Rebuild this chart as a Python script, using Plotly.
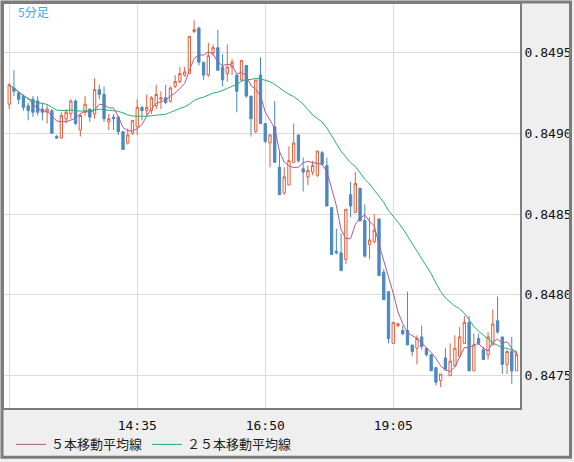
import pandas as pd
import plotly.graph_objects as go

# ---------------- data ----------------
start_time = "2024-01-01 12:20"

open_ = [0.84918, 0.84928, 0.84925, 0.84923, 0.84917, 0.84921, 0.84920, 0.84915, 0.84913, 0.84914,
         0.84898, 0.84897, 0.84909, 0.84912, 0.84920, 0.84902, 0.84913, 0.84915, 0.84912, 0.84927,
         0.84924, 0.84907, 0.84910, 0.84910, 0.84901, 0.84894, 0.84900, 0.84904, 0.84916, 0.84914,
         0.84914, 0.84917, 0.84921, 0.84922, 0.84920, 0.84929, 0.84932, 0.84936, 0.84937, 0.84963,
         0.84965, 0.84944, 0.84936, 0.84950, 0.84953, 0.84941, 0.84937, 0.84941, 0.84936, 0.84933,
         0.84942, 0.84923, 0.84901, 0.84936, 0.84906, 0.84894, 0.84904, 0.84879, 0.84863, 0.84868,
         0.84882, 0.84899, 0.84878, 0.84873, 0.84876, 0.84874, 0.84888, 0.84880, 0.84854, 0.84827,
         0.84826, 0.84822, 0.84862, 0.84851, 0.84866, 0.84846, 0.84831, 0.84833, 0.84847, 0.84814,
         0.84802, 0.84770, 0.84781, 0.84778, 0.84778, 0.84769, 0.84767, 0.84774, 0.84767, 0.84763,
         0.84755, 0.84747, 0.84761, 0.84750, 0.84756, 0.84762, 0.84770, 0.84783, 0.84753, 0.84773,
         0.84766, 0.84763, 0.84769, 0.84784, 0.84774, 0.84757, 0.84765, 0.84753]

high = [0.84931, 0.84939, 0.84926, 0.84924, 0.84919, 0.84923, 0.84923, 0.84919, 0.84918, 0.84915,
        0.84899, 0.84913, 0.84915, 0.84921, 0.84921, 0.84912, 0.84923, 0.84915, 0.84934, 0.84930,
        0.84929, 0.84912, 0.84912, 0.84911, 0.84901, 0.84903, 0.84908, 0.84921, 0.84917, 0.84924,
        0.84923, 0.84930, 0.84926, 0.84930, 0.84929, 0.84936, 0.84941, 0.84941, 0.84960, 0.84970,
        0.84966, 0.84944, 0.84956, 0.84955, 0.84964, 0.84949, 0.84955, 0.84946, 0.84936, 0.84945,
        0.84942, 0.84923, 0.84933, 0.84947, 0.84906, 0.84899, 0.84920, 0.84889, 0.84879, 0.84892,
        0.84906, 0.84899, 0.84885, 0.84880, 0.84883, 0.84889, 0.84889, 0.84885, 0.84854, 0.84841,
        0.84838, 0.84853, 0.84870, 0.84876, 0.84866, 0.84856, 0.84848, 0.84850, 0.84847, 0.84816,
        0.84802, 0.84783, 0.84783, 0.84781, 0.84802, 0.84769, 0.84775, 0.84781, 0.84767, 0.84763,
        0.84755, 0.84751, 0.84767, 0.84770, 0.84775, 0.84780, 0.84787, 0.84787, 0.84776, 0.84776,
        0.84768, 0.84777, 0.84791, 0.84799, 0.84774, 0.84766, 0.84774, 0.84765]

low = [0.84915, 0.84923, 0.84918, 0.84914, 0.84908, 0.84910, 0.84911, 0.84908, 0.84906, 0.84900,
       0.84897, 0.84897, 0.84906, 0.84909, 0.84905, 0.84898, 0.84911, 0.84907, 0.84909, 0.84921,
       0.84907, 0.84902, 0.84902, 0.84899, 0.84890, 0.84893, 0.84899, 0.84899, 0.84908, 0.84911,
       0.84912, 0.84915, 0.84915, 0.84918, 0.84919, 0.84928, 0.84931, 0.84935, 0.84937, 0.84962,
       0.84942, 0.84933, 0.84935, 0.84948, 0.84939, 0.84929, 0.84932, 0.84936, 0.84913, 0.84932,
       0.84922, 0.84898, 0.84900, 0.84906, 0.84894, 0.84879, 0.84882, 0.84862, 0.84862, 0.84868,
       0.84882, 0.84882, 0.84864, 0.84868, 0.84874, 0.84873, 0.84880, 0.84855, 0.84825, 0.84825,
       0.84815, 0.84819, 0.84848, 0.84851, 0.84845, 0.84823, 0.84822, 0.84832, 0.84812, 0.84797,
       0.84770, 0.84770, 0.84780, 0.84775, 0.84769, 0.84762, 0.84757, 0.84766, 0.84762, 0.84753,
       0.84744, 0.84743, 0.84754, 0.84750, 0.84756, 0.84762, 0.84770, 0.84753, 0.84753, 0.84769,
       0.84760, 0.84760, 0.84769, 0.84776, 0.84751, 0.84751, 0.84745, 0.84753]

close = [0.84930, 0.84926, 0.84921, 0.84916, 0.84914, 0.84913, 0.84913, 0.84913, 0.84915, 0.84900,
         0.84897, 0.84911, 0.84913, 0.84920, 0.84906, 0.84911, 0.84918, 0.84910, 0.84927, 0.84924,
         0.84909, 0.84909, 0.84909, 0.84901, 0.84890, 0.84899, 0.84908, 0.84916, 0.84914, 0.84916,
         0.84922, 0.84924, 0.84922, 0.84919, 0.84928, 0.84932, 0.84937, 0.84938, 0.84960, 0.84964,
         0.84944, 0.84936, 0.84948, 0.84953, 0.84939, 0.84933, 0.84941, 0.84944, 0.84926, 0.84945,
         0.84923, 0.84909, 0.84933, 0.84906, 0.84895, 0.84899, 0.84882, 0.84862, 0.84873, 0.84883,
         0.84894, 0.84883, 0.84876, 0.84877, 0.84880, 0.84889, 0.84881, 0.84855, 0.84825, 0.84826,
         0.84815, 0.84853, 0.84855, 0.84869, 0.84846, 0.84824, 0.84834, 0.84840, 0.84812, 0.84797,
         0.84773, 0.84783, 0.84782, 0.84776, 0.84769, 0.84765, 0.84773, 0.84768, 0.84763, 0.84753,
         0.84746, 0.84751, 0.84754, 0.84759, 0.84767, 0.84774, 0.84783, 0.84753, 0.84769, 0.84770,
         0.84760, 0.84774, 0.84782, 0.84777, 0.84757, 0.84765, 0.84753, 0.84763]

x_tick_values = ["2024-01-01 12:20", "2024-01-01 14:35", "2024-01-01 16:50", "2024-01-01 19:05"]
x_tick_labels = ["", "14:35", "16:50", "19:05"]
y_tick_values = [0.8475, 0.8480, 0.8485, 0.8490, 0.8495]
x_range = ["2024-01-01 12:14:30", "2024-01-01 21:18:40"]
y_range = [0.84730, 0.84980]

ma_short_name = "５本移動平均線"
ma_long_name = "２５本移動平均線"
title_text = "5分足"

# ---------------- derived ----------------
times = pd.date_range(start=start_time, periods=len(close), freq="5min")
close_s = pd.Series(close)
ma5 = close_s.rolling(5, min_periods=1).mean()
ma25 = close_s.rolling(25, min_periods=1).mean()

UP = "#e0603c"
DOWN = "#4a89c0"
MA5_C = "#b4588e"
MA25_C = "#27b06e"

W, H = 574, 462
ML, MR, MT, MB = 2, 51, 2, 50
PW, PH = W - ML - MR, H - MT - MB

fig = go.Figure()
fig.add_trace(go.Candlestick(
    x=times, open=open_, high=high, low=low, close=close,
    increasing=dict(line=dict(color=UP, width=1), fillcolor="#ffffff"),
    decreasing=dict(line=dict(color=DOWN, width=1), fillcolor=DOWN),
    whiskerwidth=0, showlegend=False, hoverinfo="skip",
))
fig.add_trace(go.Scatter(x=times, y=ma5, mode="lines", name=ma_short_name,
                         line=dict(color=MA5_C, width=1)))
fig.add_trace(go.Scatter(x=times, y=ma25, mode="lines", name=ma_long_name,
                         line=dict(color=MA25_C, width=1)))

axis_line = "#7c7c7c"
grid = "#dcdcdc"
mono = "DejaVu Sans Mono"

fig.update_layout(
    width=W, height=H,
    margin=dict(l=ML, r=MR, t=MT, b=MB),
    paper_bgcolor="#efefef",
    plot_bgcolor="#ffffff",
    showlegend=True,
    legend=dict(orientation="h", x=(9 - ML) / PW, xanchor="left",
                y=-(449 - (H - MB)) / PH, yanchor="middle",
                font=dict(family="Noto Sans CJK JP", size=13, color="#222222"),
                bgcolor="rgba(0,0,0,0)", itemwidth=30),
    xaxis=dict(
        type="date", range=x_range, rangeslider=dict(visible=False),
        tickmode="array", tickvals=x_tick_values, ticktext=x_tick_labels,
        showgrid=True, gridcolor=grid, gridwidth=1,
        ticks="outside", ticklen=4, tickcolor="rgba(0,0,0,0)",
        tickfont=dict(family=mono, size=13, color="#111111"),
        showline=True, linecolor=axis_line, linewidth=2, mirror=True,
        zeroline=False, fixedrange=True,
    ),
    yaxis=dict(
        side="right", range=y_range,
        tickmode="array", tickvals=y_tick_values, tickformat=".4f",
        showgrid=True, gridcolor=grid, gridwidth=1,
        ticks="", tickfont=dict(family=mono, size=13, color="#111111"),
        showline=True, linecolor=axis_line, linewidth=2, mirror=True,
        zeroline=False, fixedrange=True,
    ),
    annotations=[dict(
        text=title_text, xref="paper", yref="paper",
        x=(14 - ML) / PW, y=1 - (10 - MT) / PH, xanchor="left", yanchor="middle",
        showarrow=False, font=dict(family="Noto Sans CJK JP", size=12, color="#3aa8ea"),
    )],
    shapes=[dict(
        type="rect", xref="paper", yref="paper",
        x0=-ML / PW, x1=1 + MR / PW, y0=-MB / PH, y1=1 + MT / PH,
        line=dict(color=axis_line, width=3), fillcolor="rgba(0,0,0,0)", layer="above",
    )],
)

fig.write_html("out.html", config={"displayModeBar": False},
               post_script="document.body.style.margin='0';document.body.style.overflow='hidden';")
